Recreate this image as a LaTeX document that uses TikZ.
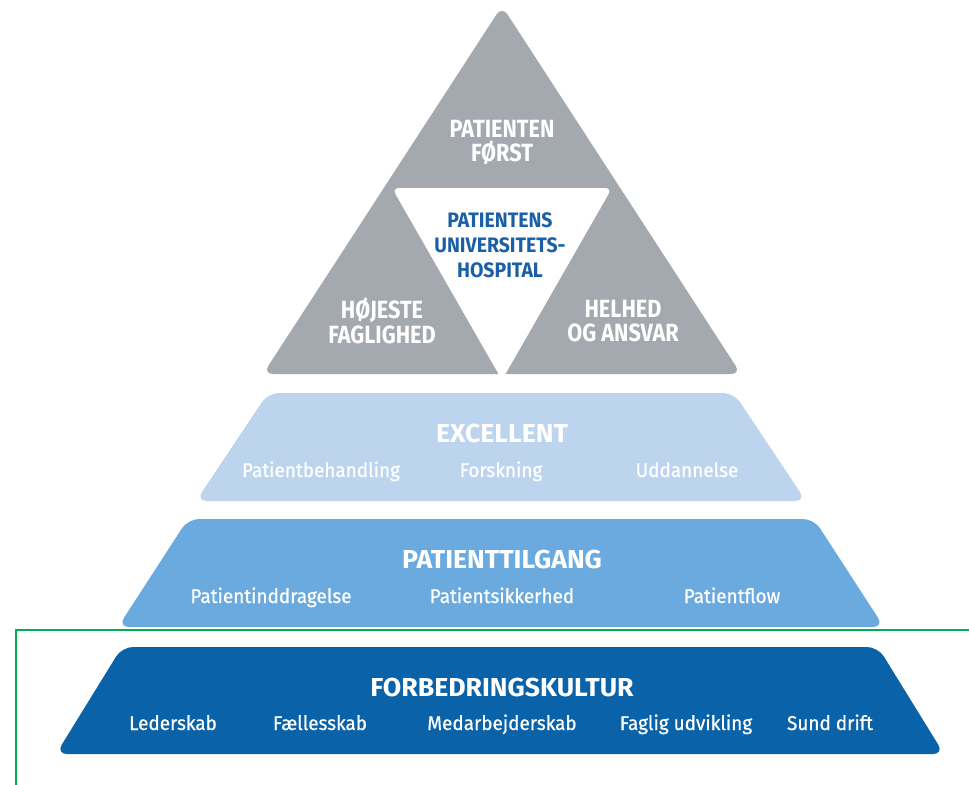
\documentclass[tikz,border=0pt]{standalone}
\usepackage{fontspec}
\setmainfont{Fira Sans}
\newfontfamily\tribold[FakeStretch=0.87]{Fira Sans Bold}
\newfontfamily\midbold[FakeStretch=0.93]{Fira Sans Bold}
\newfontfamily\titlebold[FakeStretch=1.03]{Fira Sans Bold}
\newfontfamily\condm[FakeStretch=0.95,FakeBold=0.6]{Fira Sans}
\definecolor{trigray}{HTML}{A3A9AE}
\definecolor{excl}{HTML}{BDD4EE}
\definecolor{tilg}{HTML}{6BAADF}
\definecolor{forb}{HTML}{0A62A9}
\definecolor{innerblue}{HTML}{1B5FA6}
\definecolor{frame}{HTML}{00B050}
\tikzset{
  tritext/.style={text=white, font=\tribold\fontsize{25}{24.5}\selectfont, align=center, inner sep=0pt},
  centertext/.style={text=innerblue, font=\midbold\fontsize{21}{25}\selectfont, align=center, inner sep=0pt},
  titletext/.style={text=white, font=\titlebold\fontsize{26}{30}\selectfont, inner sep=0pt, anchor=base},
  subtext/.style={text=white, font=\condm\fontsize{20}{24}\selectfont, inner sep=0pt, anchor=base},
  layer/.style={rounded corners=11bp},
}
\begin{document}
\begin{tikzpicture}[x=1bp,y=-1bp]
\useasboundingbox (0,0) rectangle (969,785);
% triangle
\fill[trigray, rounded corners=10bp] (502,6) -- (741,374) -- (263,374) -- cycle;
\fill[white, rounded corners=7bp] (392,188) -- (612,188) -- (502,380) -- cycle;
\node[tritext] (first) at (502,142.5) {PATIENTEN\\FØRST};
\node[centertext] (center) at (500,245) {PATIENTENS\\UNIVERSITETS-\\HOSPITAL};
\node[tritext] (hoj) at (382,321) {HØJESTE\\FAGLIGHED};
\node[tritext] (hel) at (623,321) {HELHED\\OG ANSVAR};
% layer 1
\fill[excl, layer] (268,393) -- (734,393) -- (806,501) -- (196,501) -- cycle;
\node[titletext] (exc) at (502,442) {EXCELLENT};
\node[subtext] (pb) at (321,477) {Patientbehandling};
\node[subtext] (fo) at (501,477) {Forskning};
\node[subtext] (ud) at (687,477) {Uddannelse};
% layer 2
\fill[tilg, layer] (188,519) -- (814,519) -- (884,627) -- (118,627) -- cycle;
\node[titletext] (pt) at (502,568) {PATIENTTILGANG};
\node[subtext] (pi) at (271,603) {Patientinddragelse};
\node[subtext] (ps) at (502,603) {Patientsikkerhed};
\node[subtext] (pf) at (732,603) {Patientflow};
% layer 3
\fill[forb, layer] (122,647) -- (878,647) -- (944,754) -- (56,754) -- cycle;
\node[titletext] (fk) at (502,696) {FORBEDRINGSKULTUR};
\node[subtext] (le) at (173,730) {Lederskab};
\node[subtext] (fa) at (320,730) {Fællesskab};
\node[subtext] (me) at (502,730) {Medarbejderskab};
\node[subtext] (fu) at (686,730) {Faglig udvikling};
\node[subtext] (sd) at (830,730) {Sund drift};
% green frame
\coordinate (g1) at (16,786);
\coordinate (g2) at (16,630);
\coordinate (g3) at (970,630);
\draw[frame, line width=2bp] (g1) -- (g2) -- (g3);
\end{tikzpicture}
\end{document}
